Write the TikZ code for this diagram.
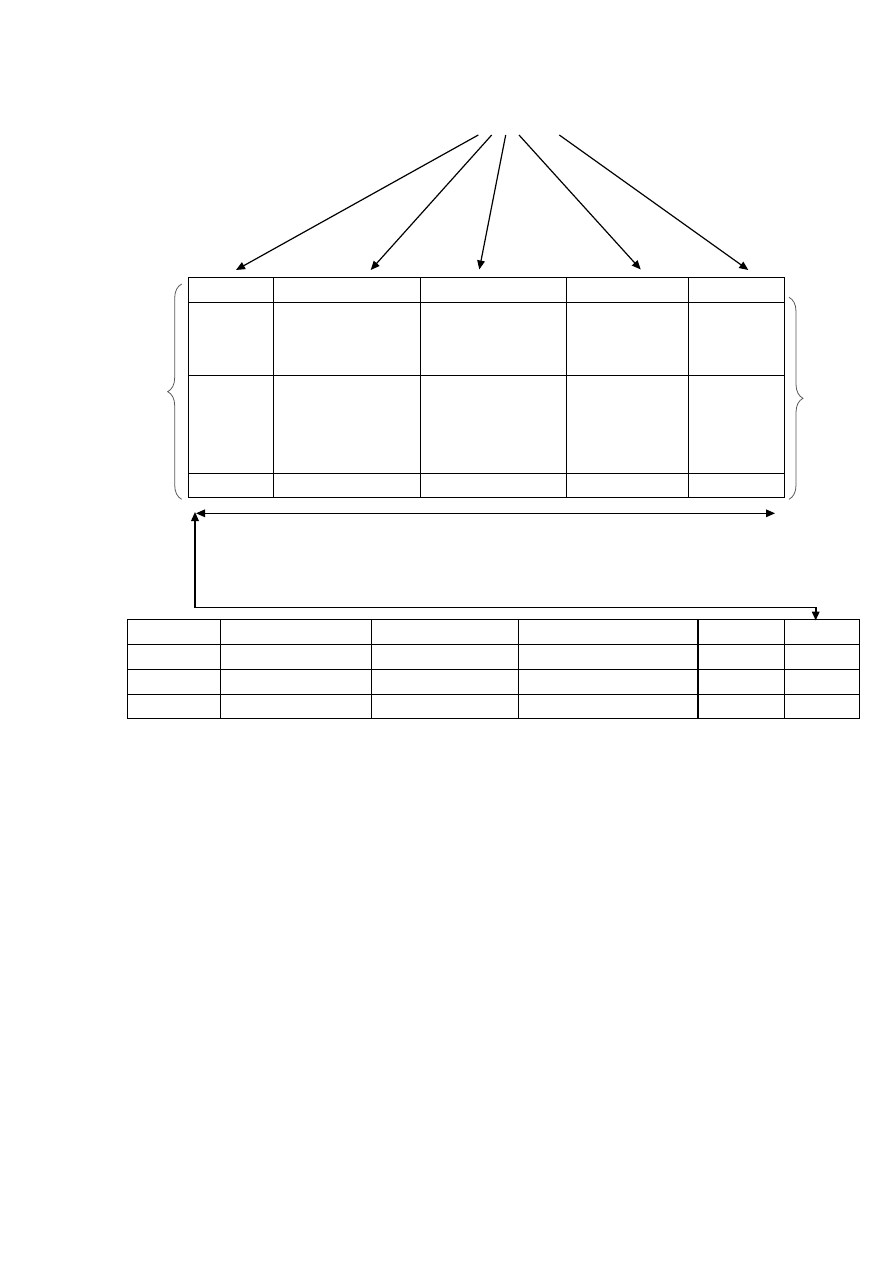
\documentclass[tikz,border=0pt]{standalone}
\usetikzlibrary{arrows.meta,decorations.pathreplacing}

\begin{document}
\begin{tikzpicture}[y=-0.5pt,x=0.5pt,line width=0.6pt,
	tip/.style={-{Triangle[length=4.5pt,width=3.8pt]}},
	twotip/.style={{Triangle[length=4.5pt,width=3.8pt]}-{Triangle[length=4.5pt,width=3.8pt]}},
	curly/.style={decorate,decoration={brace,amplitude=7pt},line width=0.4pt,black!65}]
	\newcommand\UpperRow[1]{(188.3,#1) -- (784.3,#1)}
	\newcommand\UpperCol[1]{(#1,277.3) -- (#1,497.3)}
	\newcommand\LowerRow[1]{(127.3,#1) -- (859.3,#1)}
	\newcommand\LowerCol[1]{(#1,619.5) -- (#1,718.2)}

	\useasboundingbox (0,0) rectangle (893,1263);

	% upper table
	\draw (188.3,277.3) rectangle (784.3,497.3);
	\draw \UpperCol{273.3};
	\draw \UpperCol{420.5};
	\draw \UpperCol{566.8};
	\draw \UpperCol{688.5};
	\draw \UpperRow{302.3};
	\draw \UpperRow{375.3};
	\draw \UpperRow{473.3};

	% lower table
	\draw (127.3,619.5) rectangle (859.3,718.2);
	\draw \LowerCol{220.4};
	\draw \LowerCol{371.7};
	\draw \LowerCol{518.5};
	\draw \LowerCol{698};
	\draw \LowerCol{784.5};
	\draw \LowerRow{644.1};
	\draw \LowerRow{669.3};
	\draw \LowerRow{694.3};

	% fan of arrows
	\coordinate (src1) at (478.3,135);
	\coordinate (src2) at (491.7,135);
	\coordinate (src3) at (505.7,135);
	\coordinate (src4) at (519,135);
	\coordinate (src5) at (559.3,135);
	\coordinate (col1) at (236,270);
	\coordinate (col2) at (370.7,270);
	\coordinate (col3) at (479.3,269.5);
	\coordinate (col4) at (640.7,269.5);
	\coordinate (col5) at (748.3,270);
	\draw[tip] (src1) -- (col1);
	\draw[tip] (src2) -- (col2);
	\draw[tip] (src3) -- (col3);
	\draw[tip] (src4) -- (col4);
	\draw[tip] (src5) -- (col5);

	% braces
	\coordinate (braceLb) at (181.7,499.3);
	\coordinate (braceLt) at (181.7,284);
	\coordinate (braceRt) at (789,297.3);
	\coordinate (braceRb) at (789,499.3);
	\draw[curly] (braceLb) -- (braceLt);
	\draw[curly] (braceRt) -- (braceRb);

	% width and link
	\coordinate (spanL) at (196,513.3);
	\coordinate (spanR) at (775,513.3);
	\draw[twotip] (spanL) -- (spanR);
	\coordinate (linkA) at (195,512);
	\coordinate (linkB) at (815.7,620.5);
	\draw[twotip,line width=0.8pt] (linkA) -- (195,607.5) -| (linkB);
\end{tikzpicture}
\end{document}
